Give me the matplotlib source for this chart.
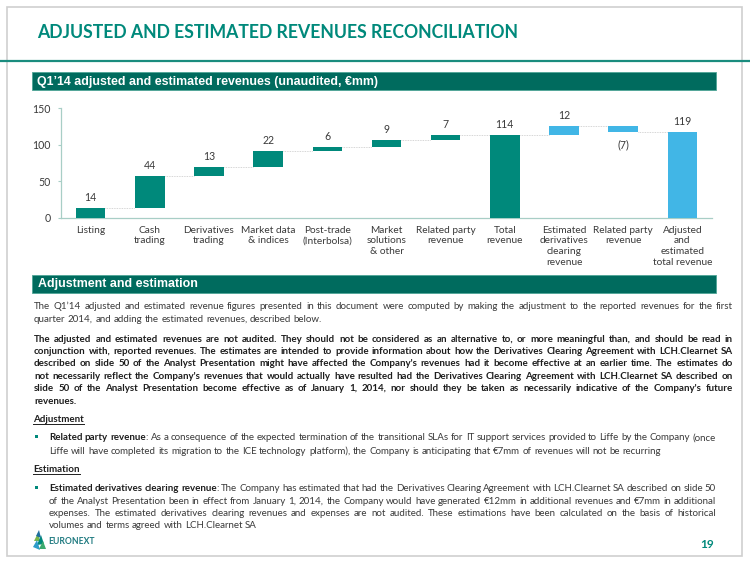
import matplotlib
matplotlib.use('Agg')
import matplotlib.pyplot as plt
from matplotlib.font_manager import FontProperties
from matplotlib.patches import Rectangle, Polygon

# waterfall data, EUR mm (Q1'14)
categories = ['Listing', 'Cash\ntrading', 'Derivatives\ntrading', 'Market data\n& indices',
              'Post-trade\n(Interbolsa)', 'Market\nsolutions\n& other', 'Related party\nrevenue',
              'Total\nrevenue', 'Estimated\nderivatives\nclearing\nrevenue', 'Related party\nrevenue',
              'Adjusted\nand\nestimated\ntotal revenue']
values = [13.6, 43.2, 12.3, 21.9, 5.9, 9.1, 7.2, 113.2, 12.3, -7.6, 117.9]
is_total = [False, False, False, False, False, False, False, True, False, False, True]
value_labels = ['14', '44', '13', '22', '6', '9', '7', '114', '12', '(7)', '119']
bar_colors = ['#00897B'] * 8 + ['#41B6E6'] * 3
y_ticks = [0, 50, 100, 150]

title = 'ADJUSTED AND ESTIMATED REVENUES RECONCILIATION'
header_chart = 'Q1’14 adjusted and estimated revenues (unaudited, €mm)'
header_text = 'Adjustment and estimation'

para_intro = [
    [('The Q1’14 adjusted and estimated revenue figures presented in this document were computed by making the adjustment to the reported revenues for the first', False)],
    [('quarter 2014, and adding the estimated revenues, described below.', False)],
]
para_bold = [
    [('The adjusted and estimated revenues are not audited. They should not be considered as an alternative to, or more meaningful than, and should be read in', True)],
    [('conjunction with, reported revenues. The estimates are intended to provide information about how the Derivatives Clearing Agreement with LCH.Clearnet SA', True)],
    [('described on slide 50 of the Analyst Presentation might have affected the Company\'s revenues had it become effective at an earlier time. The estimates do', True)],
    [('not necessarily reflect the Company\'s revenues that would actually have resulted had the Derivatives Clearing Agreement with LCH.Clearnet SA described on', True)],
    [('slide 50 of the Analyst Presentation become effective as of January 1, 2014, nor should they be taken as necessarily indicative of the Company\'s future', True)],
    [('revenues.', True)],
]
bullet_adjust = [
    [('Related party revenue', True), (': As a consequence of the expected termination of the transitional SLAs for IT support services provided to Liffe by the Company (once', False)],
    [('Liffe will have completed its migration to the ICE technology platform), the Company is anticipating that €7mm of revenues will not be recurring', False)],
]
bullet_estim = [
    [('Estimated derivatives clearing revenue', True), (': The Company has estimated that had the Derivatives Clearing Agreement with LCH.Clearnet SA described on slide 50', False)],
    [('of the Analyst Presentation been in effect from January 1, 2014, the Company would have generated €12mm in additional revenues and €7mm in additional', False)],
    [('expenses. The estimated derivatives clearing revenues and expenses are not audited. These estimations have been calculated on the basis of historical', False)],
    [('volumes and terms agreed with LCH.Clearnet SA', False)],
]

TEAL = '#00897B'
DARK = '#006B5E'
GREY_TXT = '#3A3A3A'
BOLD_TXT = '#1E1E1E'

fig = plt.figure(figsize=(7.5, 5.63), dpi=100)
renderer = fig.canvas.get_renderer()

# slide background in pixel coordinates
bg = fig.add_axes([0, 0, 1, 1])
bg.set_xlim(0, 750)
bg.set_ylim(563, 0)
bg.axis('off')


def text_w(s, size, bold, family='Lato'):
    prop = FontProperties(family=family, size=size, weight='bold' if bold else 'normal')
    w, h, d = renderer.get_text_width_height_descent(s, prop, ismath=False)
    return w


def adv_w(s, size, bold):
    # advance width (keeps side bearings of punctuation)
    return text_w('|' + s + '|', size, bold) - text_w('||', size, bold)


def fit_size(s, width, bold, family='Lato'):
    return 10 * width / text_w(s, 10, bold, family)


def split_words(segs):
    words, cur = [], []
    for txt, bold in segs:
        for k, part in enumerate(txt.split(' ')):
            if k > 0 and cur:
                words.append(cur)
                cur = []
            if part:
                cur.append((part, bold))
    if cur:
        words.append(cur)
    return words


def max_size(lines, width, base=10.0, min_gap=0.85):
    space = adv_w(' ', base, False)
    best = 99
    for segs in lines[:-1]:
        words = split_words(segs)
        total = sum(adv_w(p, base, b) for w in words for p, b in w)
        best = min(best, base * width / (total + min_gap * space * (len(words) - 1)))
    return best


def draw_par(lines, x0, x1, ys, size):
    space = adv_w(' ', size, False)
    for j, segs in enumerate(lines):
        words = split_words(segs)
        widths = [[adv_w(p, size, b) for p, b in w] for w in words]
        total = sum(sum(ws) for ws in widths)
        if j < len(lines) - 1 and len(words) > 1:
            gap = (x1 - x0 - total) / (len(words) - 1)
        else:
            gap = space
        x = x0
        for w, ws in zip(words, widths):
            for (p, b), pw in zip(w, ws):
                bg.text(x, ys[j] + 3.5, p, fontsize=size, family='Lato',
                        fontweight='bold' if b else 'normal',
                        color=BOLD_TXT if b else GREY_TXT, ha='left', va='baseline')
                x += pw
            x += gap


# frame, title, rule
bg.add_patch(Rectangle((7, 7), 735, 549, fill=False, ec='#CFCFCF', lw=1.2))
bg.plot([0, 750], [61, 61], color='#1A8C7E', lw=1.6)
bg.text(37, 33, title, fontsize=fit_size(title, 484, True), family='Lato', fontweight='bold',
        color=TEAL, ha='left', va='center')

# section headers
bg.add_patch(Rectangle((32, 72), 684, 18, fc=DARK, ec='#4FA597', lw=0.6))
bg.text(37, 81.5, header_chart, fontsize=fit_size(header_chart, 342, True, 'Liberation Sans'),
        family='Liberation Sans', fontweight='bold', color='white', ha='left', va='center')
bg.add_patch(Rectangle((32, 275), 684, 18, fc=DARK, ec='#4FA597', lw=0.6))
bg.text(38, 284.5, header_text, fontsize=fit_size(header_text, 159, True, 'Liberation Sans'),
        family='Liberation Sans', fontweight='bold', color='white', ha='left', va='center')

# body text
reg_size = min(7.8, max_size(para_intro, 699), max_size(bullet_adjust, 667),
               max_size(bullet_estim, 667))
bold_size = min(reg_size, max_size(para_bold, 699))
draw_par(para_intro, 34, 733, [305.7, 318.3], reg_size)
draw_par(para_bold, 34, 733, [338.3, 350.5, 362.8, 375.1, 387.6, 400.0], bold_size)

for label, yc in [('Adjustment', 418.3), ('Estimation', 468.3)]:
    bg.text(33, yc + 3.5, label, fontsize=reg_size, family='Lato', fontweight='bold',
            color=BOLD_TXT, ha='left', va='baseline')
    bg.plot([33, 33 + text_w(label, reg_size, True)], [yc + 5.3, yc + 5.3], color=BOLD_TXT, lw=0.7)

for yc in [436.7, 487.3]:
    bg.add_patch(Rectangle((35, yc - 1.5), 3, 3, fc=TEAL, ec='none'))
draw_par(bullet_adjust, 49, 716, [436.7, 450.0], reg_size)
draw_par(bullet_estim, 49, 716, [487.3, 500.0, 512.3, 525.0], reg_size)

# logo and page number
leaves = [
    ([(34, 541), (38, 533), (40, 541)], '#7AB648'),
    ([(37, 545), (41, 535), (44, 544)], '#00897B'),
    ([(33, 547), (37, 540), (40, 550)], '#2E9CCA'),
    ([(39, 549), (43, 541), (46, 549)], '#3BAA6E'),
    ([(36, 536), (39, 530), (41, 538)], '#1E6F9F'),
]
for pts, c in leaves:
    bg.add_patch(Polygon(pts, closed=True, fc=c, ec='none'))
bg.text(48, 541.5, 'EURONEXT', fontsize=6.2, family='Lato',
        fontweight='bold', color='#1F7A80', ha='left', va='center')
bg.text(707, 544, '19', fontsize=8.5, family='Lato', fontweight='bold', color=TEAL,
        ha='center', va='center')

# waterfall chart
ax = fig.add_axes([61 / 750, 1 - 218 / 563, 651 / 750, 110 / 563])
ax.set_xlim(-0.5, len(categories) - 0.5)
ax.set_ylim(0, 150)

levels = []
level = 0
for i, v in enumerate(values):
    if is_total[i]:
        bottom, height = 0, v
        level = v
    else:
        bottom = level if v >= 0 else level + v
        height = abs(v)
        level += v
    levels.append(level)
    ax.bar(i, height, bottom=bottom, width=0.5, color=bar_colors[i], zorder=3)
    if v >= 0:
        ax.annotate(value_labels[i], (i, bottom + height), xytext=(0, 7.5),
                    textcoords='offset points', ha='center', va='center',
                    fontsize=7.6, family='Lato', color=GREY_TXT)
    else:
        ax.annotate(value_labels[i], (i, bottom), xytext=(0, -9.5),
                    textcoords='offset points', ha='center', va='center',
                    fontsize=7.6, family='Lato', color=GREY_TXT)

for i in range(len(values) - 1):
    ax.plot([i + 0.25, i + 0.75], [levels[i], levels[i]], color='#C8C8C8',
            lw=0.6, ls=(0, (1, 1)), zorder=2)

ax.set_xticks(range(len(categories)))
ax.set_xticklabels(categories, fontsize=7.3, family='Lato', color=GREY_TXT, linespacing=1.25)
ax.set_yticks(y_ticks)
ax.set_yticklabels([str(t) for t in y_ticks], fontsize=7.6, family='Lato', color=GREY_TXT)
ax.tick_params(axis='x', length=0, pad=5.5)
ax.tick_params(axis='y', length=2, pad=5.5, color='#A8CEC6')
for s in ['top', 'right']:
    ax.spines[s].set_visible(False)
for s in ['left', 'bottom']:
    ax.spines[s].set_color('#A8CEC6')
    ax.spines[s].set_linewidth(0.9)
ax.patch.set_alpha(0)

fig.savefig('out.png', dpi=100)
